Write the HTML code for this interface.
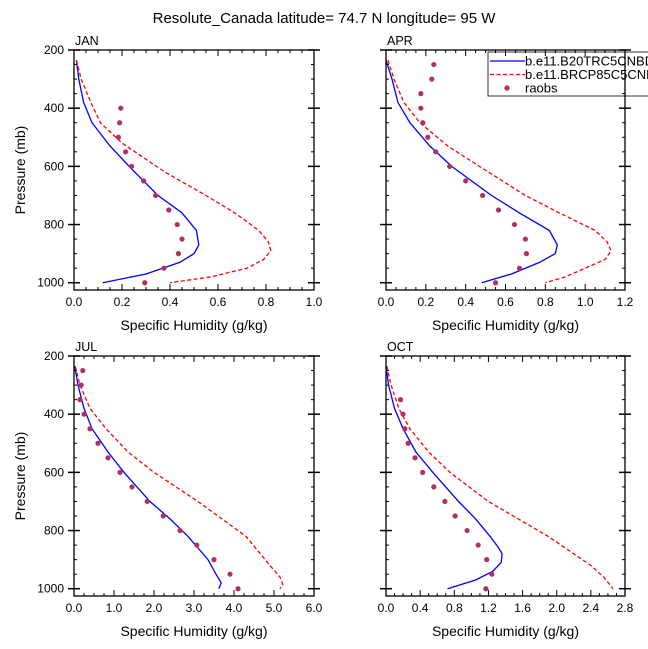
<!DOCTYPE html>
<html><head><meta charset="utf-8"><style>
html,body{margin:0;padding:0;background:#fff;}
svg{display:block;font-family:"Liberation Sans",Arial,sans-serif;}
</style></head><body>
<svg id="chart" width="648" height="649" viewBox="0 0 648 649" xmlns="http://www.w3.org/2000/svg">
<rect x="0" y="0" width="648" height="649" fill="#fff"/>
<text x="324" y="23" font-size="15" text-anchor="middle">Resolute_Canada  latitude= 74.7 N longitude= 95 W</text>
</svg>
<script>
const panelNames=["JAN","APR","JUL","OCT"];
const xMaxes=[1.0,1.2,6.0,2.8];
const xTickLabels=[["0.0","0.2","0.4","0.6","0.8","1.0"],["0.0","0.2","0.4","0.6","0.8","1.0","1.2"],["0.0","1.0","2.0","3.0","4.0","5.0","6.0"],["0.0","0.4","0.8","1.2","1.6","2.0","2.4","2.8"]];
const yTickLabels=[200,400,600,800,1000];
const janBlueP=[235,300,380,450,530,600,700,760,820,870,900,930,970,1000];
const janBlueQ=[0.01,0.02,0.04,0.075,0.15,0.23,0.35,0.45,0.51,0.52,0.50,0.44,0.30,0.12];
const janRedP=[235,300,380,450,520,620,700,760,820,860,890,920,950,980,1000];
const janRedQ=[0.01,0.03,0.07,0.11,0.20,0.38,0.55,0.67,0.77,0.81,0.82,0.79,0.72,0.57,0.40];
const janObsP=[400,450,500,550,600,650,700,750,800,850,900,950,1000];
const janObsQ=[0.195,0.19,0.185,0.215,0.24,0.29,0.34,0.395,0.43,0.45,0.435,0.375,0.295];
const aprBlueP=[235,300,380,450,530,600,700,760,820,870,900,930,970,1000];
const aprBlueQ=[0.0,0.03,0.06,0.12,0.22,0.33,0.53,0.67,0.82,0.86,0.85,0.77,0.63,0.48];
const aprRedP=[235,300,380,450,530,600,700,760,820,860,890,920,950,980,1000];
const aprRedQ=[0.01,0.04,0.09,0.17,0.31,0.47,0.70,0.87,1.05,1.11,1.13,1.10,1.0,0.90,0.80];
const aprObsP=[250,300,350,400,450,500,550,600,650,700,750,800,850,900,950,1000];
const aprObsQ=[0.24,0.23,0.175,0.175,0.185,0.21,0.25,0.32,0.40,0.485,0.565,0.645,0.70,0.705,0.67,0.55];
const julBlueP=[235,300,380,450,530,600,700,760,820,860,900,950,980,1000];
const julBlueQ=[0.02,0.10,0.25,0.45,0.85,1.25,1.9,2.4,2.85,3.1,3.35,3.55,3.68,3.62];
const julRedP=[235,300,380,450,530,600,700,760,820,870,920,960,985,1000];
const julRedQ=[0.03,0.15,0.40,0.80,1.35,2.0,3.1,3.7,4.3,4.6,4.9,5.15,5.22,5.15];
const julObsP=[250,300,350,400,450,500,550,600,650,700,750,800,850,900,950,1000];
const julObsQ=[0.22,0.18,0.15,0.25,0.40,0.60,0.85,1.15,1.45,1.83,2.23,2.65,3.07,3.50,3.90,4.10];
const octBlueP=[235,300,380,450,530,600,700,760,820,860,880,910,940,970,1000];
const octBlueQ=[0.0,0.03,0.10,0.20,0.35,0.55,0.85,1.05,1.22,1.32,1.36,1.35,1.25,1.05,0.72];
const octRedP=[235,300,380,450,530,600,700,760,820,870,920,960,985,1000];
const octRedQ=[0.01,0.06,0.15,0.28,0.50,0.75,1.2,1.55,1.9,2.15,2.4,2.55,2.62,2.66];
const octObsP=[350,400,450,500,550,600,650,700,750,800,850,900,950,1000];
const octObsQ=[0.17,0.20,0.22,0.26,0.34,0.43,0.56,0.69,0.81,0.95,1.08,1.18,1.24,1.17];

const series=[
 [janBlueP,janBlueQ,janRedP,janRedQ,janObsP,janObsQ],
 [aprBlueP,aprBlueQ,aprRedP,aprRedQ,aprObsP,aprObsQ],
 [julBlueP,julBlueQ,julRedP,julRedQ,julObsP,julObsQ],
 [octBlueP,octBlueQ,octRedP,octRedQ,octObsP,octObsQ]];
const NS="http://www.w3.org/2000/svg";
const svg=document.getElementById("chart");
function mk(tag,attrs,parent){const e=document.createElementNS(NS,tag);for(const k in attrs)e.setAttribute(k,attrs[k]);(parent||svg).appendChild(e);return e;}
const boxes=[[74,50,314,290],[386,50,625,290],[74,356,314,596],[386,356,625,596]];
const pMin=200,pMax=1025;
boxes.forEach((b,i)=>{
 const [x0,y0,x1,y1]=b;
 const g=mk("g",{});
 
 
 const xm=xMaxes[i];
 const X=v=>x0+(x1-x0)*v/xm;
 const Y=p=>y0+(y1-y0)*(p-pMin)/(pMax-pMin);
 for(let p=200;p<=1000;p+=50){const maj=p%200===0;const L=maj?6:3;const y=Y(p);
  mk("line",{x1:x0,y1:y,x2:x0+L,y2:y,stroke:"#000","stroke-width":maj?1.5:1},g);
  mk("line",{x1:x1,y1:y,x2:x1-L,y2:y,stroke:"#000","stroke-width":maj?1.5:1},g);
  if(maj){mk("line",{x1:x0,y1:y,x2:x0-6,y2:y,stroke:"#000","stroke-width":1.5},g);mk("line",{x1:x1,y1:y,x2:x1+6,y2:y,stroke:"#000","stroke-width":1.5},g);}
 }
 if(i%2===0){yTickLabels.forEach(p=>{const t=mk("text",{x:x0-10,y:Y(p)+4,"font-size":12,"text-anchor":"end"},g);t.textContent=p;});
  const yt=mk("text",{x:0,y:0,"font-size":14,"text-anchor":"middle",transform:`translate(${x0-49},${(y0+y1)/2}) rotate(-90)`},g);yt.textContent="Pressure (mb)";}
 const labs=xTickLabels[i];const nMaj=labs.length-1;const step=xm/nMaj;
 for(let k=0;k<=nMaj*4;k++){const v=step*k/4;const maj=k%4===0;const x=X(v);const L=maj?6:3;
  mk("line",{x1:x,y1:y1,x2:x,y2:y1-L,stroke:"#000","stroke-width":1},g);
  mk("line",{x1:x,y1:y0,x2:x,y2:y0+L,stroke:"#000","stroke-width":1},g);}
 labs.forEach((l,k)=>{const t=mk("text",{x:X(step*k),y:y1+16,"font-size":12,"text-anchor":"middle"},g);t.textContent=l;});
 const xt=mk("text",{x:(x0+x1)/2,y:y1+40,"font-size":14,"text-anchor":"middle"},g);xt.textContent="Specific Humidity (g/kg)";
 
 
 const pl=mk("text",{x:x0+1,y:y0-5,"font-size":12.5},g);pl.textContent=panelNames[i];
 
 
 const s=series[i];
 const path=(P,Q)=>P.map((p,k)=>(k?"L":"M")+X(Q[k]).toFixed(1)+","+Y(p).toFixed(1)).join("");
 const bl=mk("path",{d:path(s[0],s[1]),fill:"none",stroke:"#0000ff","stroke-width":1.3},g);
 
 
 const rl=mk("path",{d:path(s[2],s[3]),fill:"none",stroke:"#ff0000","stroke-width":1.3,"stroke-dasharray":"4,2.5"},g);
 
 
 s[4].forEach((p,k)=>{const c=mk("circle",{cx:X(s[5][k]),cy:Y(p),r:2.6,fill:"#b03060"},g);
  
  });
 const fr=mk("rect",{x:x0,y:y0,width:x1-x0,height:y1-y0,fill:"none",stroke:"#000","stroke-width":1.3},g);
 
 
});
const lg=mk("g",{});


mk("rect",{x:488,y:52,width:170,height:44,fill:"none",stroke:"#000","stroke-width":0.8},lg);
const legItems=[["b.e11.B20TRC5CNBDRD","#0000ff",null],["b.e11.BRCP85C5CNBDRD","#ff0000","4,2.5"],["raobs","#b03060","dot"]];
legItems.forEach((it,k)=>{const y=61+k*13.5;
 const e=mk("g",{},lg);
 
 
 if(it[2]==="dot")mk("circle",{cx:507,cy:y,r:2.6,fill:it[1]},e);
 else{const a={x1:490,y1:y,x2:525,y2:y,stroke:it[1],"stroke-width":1.3};if(it[2])a["stroke-dasharray"]=it[2];mk("line",a,e);}
 const t=mk("text",{x:525,y:y+4.5,"font-size":13},e);t.textContent=it[0];});
</script>
</body></html>
